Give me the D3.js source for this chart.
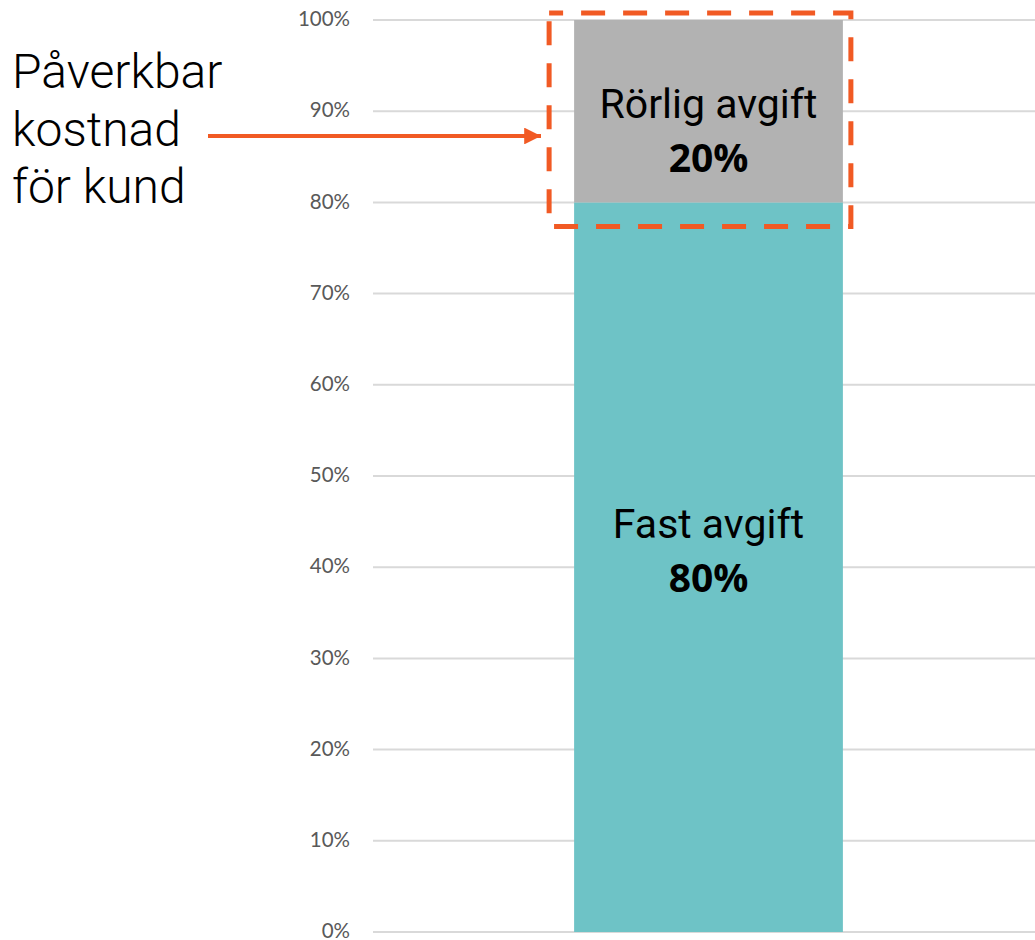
<!DOCTYPE html>
<html>
<head>
<meta charset="utf-8">
<script src="https://cdn.jsdelivr.net/npm/d3@7"></script>
<style>
  body { margin: 0; background: #fff; }
  svg { display: block; }
</style>
</head>
<body>
<svg id="chart" width="1035" height="940"></svg>
<script>
// data
var categories = ["Kostnad"];
var fastValues = [80];
var rorligValues = [20];
var seriesNames = ["Fast avgift", "Rörlig avgift"];
var tickValues = [0, 10, 20, 30, 40, 50, 60, 70, 80, 90, 100];
var noteLines = ["Påverkbar", "kostnad", "för kund"];

var svg = d3.select("#chart");

var x = d3.scaleBand()
    .domain(categories)
    .range([373, 1044])
    .paddingInner(0.428)
    .paddingOuter(0.428);

var y = d3.scaleLinear()
    .domain([0, 100])
    .range([932, 20]);

// gridlines
svg.append("g")
    .selectAll("line")
    .data(tickValues)
  .enter().append("line")
    .attr("x1", 373)
    .attr("x2", 1035)
    .attr("y1", function(d) { return y(d); })
    .attr("y2", function(d) { return y(d); })
    .attr("stroke", "#d9d9d9")
    .attr("stroke-width", 2);

// y axis labels
var yAxis = svg.append("g")
    .attr("transform", "translate(358,0)")
    .call(d3.axisLeft(y).tickValues(tickValues).tickSize(0).tickPadding(8)
      .tickFormat(function(d) { return d + "%"; }));
yAxis.select(".domain").remove();
yAxis.selectAll("text")
    .attr("fill", "#595959")
    .attr("dy", "0.28em")
    .style("font-family", "Lato, 'Open Sans', sans-serif")
    .style("font-size", "20.5px");

// stacked bars
var stackData = categories.map(function(c, i) {
  return { cat: c, fast: fastValues[i], rorlig: rorligValues[i] };
});
var stack = d3.stack().keys(["fast", "rorlig"]);
var layers = stack(stackData);
var colors = { fast: "#6ec3c6", rorlig: "#b2b2b2" };
// label offsets from the middle of each segment (name, percent)
var labelOffsets = { fast: [-29, 25], rorlig: [7, 61] };

svg.append("g")
    .selectAll("g")
    .data(layers)
  .enter().append("g")
    .attr("fill", function(d) { return colors[d.key]; })
  .selectAll("rect")
    .data(function(d) { return d; })
  .enter().append("rect")
    .attr("x", function(d) { return x(d.data.cat); })
    .attr("width", x.bandwidth())
    .attr("y", function(d) { return y(d[1]); })
    .attr("height", function(d) { return y(d[0]) - y(d[1]); });

// labels inside bars
layers.forEach(function(layer, li) {
  layer.forEach(function(d) {
    var cx = x(d.data.cat) + x.bandwidth() / 2;
    var mid = y((d[0] + d[1]) / 2);
    var off = labelOffsets[layer.key];
    var g = svg.append("g").attr("fill", "#000");
    g.append("text")
        .attr("x", cx)
        .attr("y", mid + off[0])
        .attr("text-anchor", "middle")
        .style("font-family", "Roboto, sans-serif")
        .style("font-size", "41px")
        .style("font-weight", 400)
        .text(seriesNames[li]);
    g.append("text")
        .attr("x", cx)
        .attr("y", mid + off[1])
        .attr("text-anchor", "middle")
        .style("font-family", "'Open Sans', sans-serif")
        .style("font-size", "39px")
        .style("font-weight", 700)
        .text((d[1] - d[0]) + "%");
  });
});

// dashed highlight box round the variable part
var orange = "#f15a24";
var bx0 = x(categories[0]) - 25, bx1 = x(categories[0]) + x.bandwidth() + 8;
var by0 = y(100) - 7, by1 = y(100 - rorligValues[0]) + 24;
svg.append("rect")
    .attr("x", bx0)
    .attr("y", by0)
    .attr("width", bx1 - bx0)
    .attr("height", by1 - by0)
    .attr("fill", "none")
    .attr("stroke", orange)
    .attr("stroke-width", 5)
    .attr("stroke-dasharray", "24,18")
    .attr("stroke-dashoffset", 10);

// arrow
svg.append("defs").append("marker")
    .attr("id", "head")
    .attr("viewBox", "0 0 10 10")
    .attr("refX", 10)
    .attr("refY", 5)
    .attr("markerWidth", 4.2)
    .attr("markerHeight", 4.2)
    .attr("markerUnits", "strokeWidth")
    .attr("orient", "auto")
  .append("path")
    .attr("d", "M0,0L10,5L0,10Z")
    .attr("fill", orange);

svg.append("line")
    .attr("x1", 208)
    .attr("x2", 541)
    .attr("y1", 136)
    .attr("y2", 136)
    .attr("stroke", orange)
    .attr("stroke-width", 4)
    .attr("marker-end", "url(#head)");

// note text
svg.append("g")
    .selectAll("text")
    .data(noteLines)
  .enter().append("text")
    .attr("x", 12)
    .attr("y", function(d, i) { return 88 + i * 57.5; })
    .style("font-family", "Roboto, sans-serif")
    .style("font-weight", 300)
    .style("font-size", "48px")
    .attr("fill", "#000")
    .text(function(d) { return d; });
</script>
</body>
</html>
